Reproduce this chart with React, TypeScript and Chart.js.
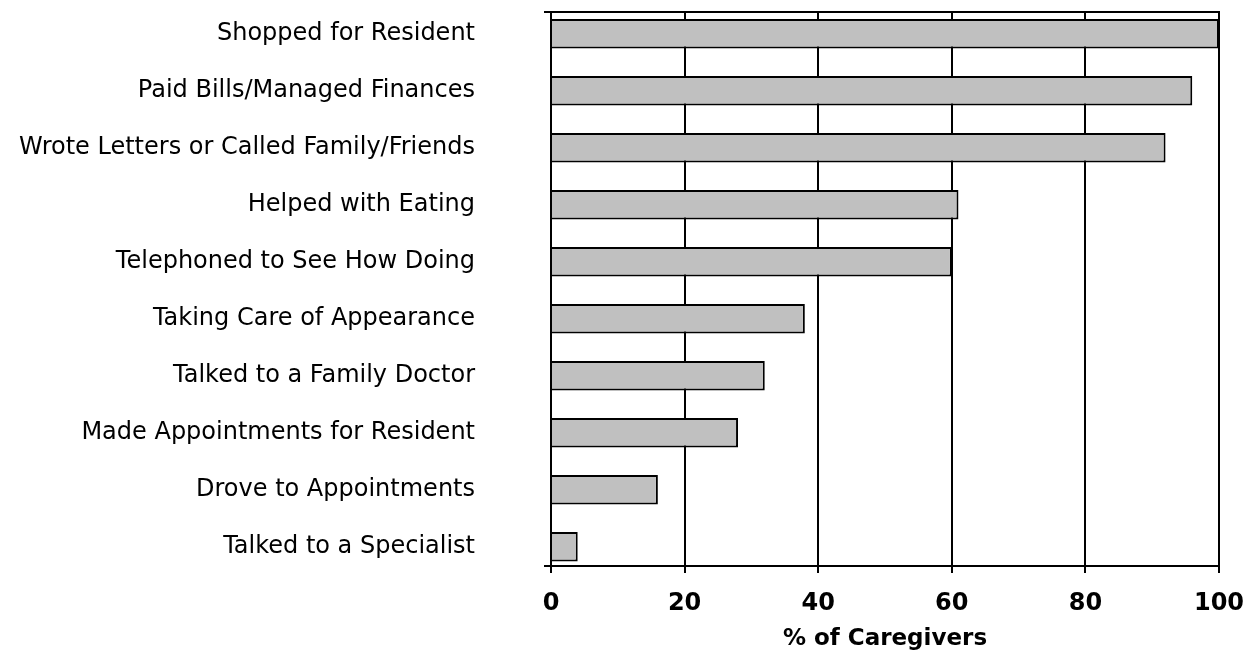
import React, { useEffect, useRef } from "react";
import { Chart, registerables } from "chart.js";

Chart.register(...registerables);

const categories = [
  "Shopped for Resident",
  "Paid Bills/Managed Finances",
  "Wrote Letters or Called Family/Friends",
  "Helped with Eating",
  "Telephoned to See How Doing",
  "Taking Care of Appearance",
  "Talked to a Family Doctor",
  "Made Appointments for Resident",
  "Drove to Appointments",
  "Talked to a Specialist",
];
const values = [100, 96, 92, 61, 60, 38, 32, 28, 16, 4];
const xTickStep = 20;
const xMin = 0;
const xMax = 100;
const xTitle = "% of Caregivers";

const framePlugin = {
  id: "frame",
  afterDatasetsDraw(chart: any) {
    const { ctx, chartArea } = chart;
    const { top, bottom, left, right } = chartArea;
    ctx.save();
    ctx.strokeStyle = "#000";
    ctx.lineWidth = 2;
    ctx.beginPath();
    ctx.moveTo(left - 7, top);
    ctx.lineTo(right + 1, top);
    ctx.moveTo(left - 7, bottom);
    ctx.lineTo(left, bottom);
    ctx.moveTo(left, top);
    ctx.lineTo(left, bottom);
    ctx.stroke();
    ctx.restore();
  },
};

export default function App() {
  const ref = useRef<HTMLCanvasElement | null>(null);

  useEffect(() => {
    if (!ref.current) return;
    Chart.defaults.font.family = "'DejaVu Sans', Verdana, sans-serif";
    Chart.defaults.color = "#000";
    const chart = new Chart(ref.current, {
      type: "bar",
      data: {
        datasets: [
          {
            data: values.map((v, i) => ({ x: v, y: i })) as any,
            backgroundColor: "#c0c0c0",
            borderColor: "#000",
            borderWidth: 2,
            categoryPercentage: 1,
            barPercentage: 0.52,
          },
        ],
      },
      options: {
        indexAxis: "y",
        animation: false,
        responsive: false,
        devicePixelRatio: 1,
        layout: { autoPadding: false, padding: { top: 12, right: 33, bottom: 0, left: 0 } },
        plugins: {
          legend: { display: false },
          tooltip: { enabled: false },
        },
        scales: {
          x: {
            type: "linear",
            position: "bottom",
            min: xMin,
            max: xMax,
            offset: false,
            ticks: {
              stepSize: xTickStep,
              font: { size: 24, weight: "bold" },
              color: "#000",
              padding: 16,
            },
            grid: {
              color: "#000",
              lineWidth: 2,
              tickLength: 7,
              drawOnChartArea: true,
              drawTicks: true,
            },
            border: { display: true, color: "#000", width: 2 },
            title: {
              display: true,
              text: xTitle,
              font: { size: 23, weight: "bold", lineHeight: 1 },
              color: "#000",
              padding: 0,
            },
            afterFit(s: any) {
              s.height = 85;
              s.paddingLeft = 0;
              s.paddingRight = 0;
              s.paddingTop = 0;
              s.paddingBottom = 0;
            },
          },
          y: {
            type: "linear",
            position: "left",
            reverse: true,
            min: -0.381,
            max: 9.338,
            offset: false,
            grid: { display: false, drawTicks: false },
            border: { display: true, color: "#000", width: 2 },
            ticks: {
              autoSkip: false,
              font: { size: 24 },
              color: "#000",
              padding: 76,
              callback: (v: any) => categories[v] ?? "",
            },
            afterBuildTicks(s: any) {
              s.ticks = categories.map((_, i) => ({ value: i }));
            },
            afterFit(s: any) {
              s.width = 551;
              s.paddingLeft = 0;
              s.paddingRight = 0;
              s.paddingTop = 0;
              s.paddingBottom = 0;
            },
          },
        },
      },
      plugins: [framePlugin],
    } as any);
    return () => chart.destroy();
  }, []);

  return (
    <div style={{ position: "absolute", left: 0, top: 0, width: 1252, height: 651, background: "#fff" }}>
      <canvas ref={ref} width={1252} height={651} />
    </div>
  );
}
